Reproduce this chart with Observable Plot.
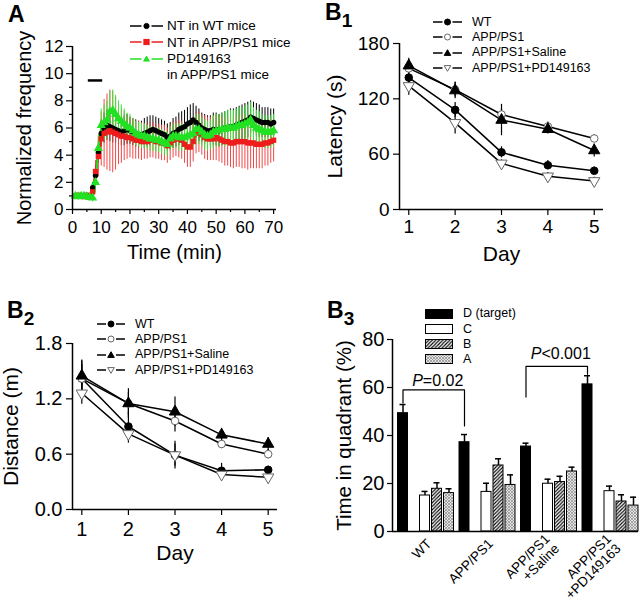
<!DOCTYPE html>
<html>
<head>
<meta charset="utf-8">
<script src="https://cdn.jsdelivr.net/npm/d3@7"></script>
<script src="https://cdn.jsdelivr.net/npm/@observablehq/plot@0.6"></script>
<style>
  html, body { margin: 0; padding: 0; background: #fff; }
  #fig { position: relative; width: 640px; height: 604px; overflow: hidden; font-family: "Liberation Sans", Arial, Helvetica, sans-serif; color: #000; background: #fff; }
  .panel { position: absolute; }
  .plabel { position: absolute; font-weight: bold; font-size: 23px; line-height: 1; }
  .plabel sub { font-size: 19px; vertical-align: -7px; line-height: 0; }
  .legend { position: absolute; }
  .legend .row { position: absolute; left: 0; display: flex; align-items: center; white-space: nowrap; line-height: 1; height: 14px; }
</style>
</head>
<body>
<svg width="0" height="0" style="position:absolute">
  <defs>
    <pattern id="hatchB" patternUnits="userSpaceOnUse" width="3.5" height="3.5">
      <rect width="3.5" height="3.5" fill="#fff"/>
      <path d="M-1,1 L1,-1 M0,3.5 L3.5,0 M2.5,4.5 L4.5,2.5" stroke="#000" stroke-width="1.1"/>
    </pattern>
    <pattern id="crossA" patternUnits="userSpaceOnUse" width="3" height="3">
      <rect width="3" height="3" fill="#e4e4e4"/>
      <path d="M0,0 L3,3 M3,0 L0,3" stroke="#8a8a8a" stroke-width="0.7"/>
    </pattern>
  </defs>
</svg>
<div id="fig"></div>
<script>
// ---------------- Panel A data ----------------
const timeMin = [1,2,3,4,5,6,7,8,9,10,11,12,13,14,15,16,17,18,19,20,21,22,23,24,25,26,27,28,29,30,31,32,33,34,35,36,37,38,39,40,41,42,43,44,45,46,47,48,49,50,51,52,53,54,55,56,57,58,59,60,61,62,63,64,65,66,67,68,69,70];
const wtMean = [1.0,0.95,1.0,1.05,1.0,0.95,1.6,2.5,4.2,5.6, 6.0,6.2,6.1,6.0,5.9,5.8,5.7,5.8,5.9,5.8, 5.7,5.6,5.5,5.5,5.6,5.7,5.8,5.9,5.8,5.7, 5.6,5.5,5.3,5.4,5.6,5.7,5.9,6.0,6.1,6.3, 6.4,6.6,6.4,6.2,6.0,5.9,5.8,5.8,5.9,5.9, 5.8,5.9,6.0,6.0,6.1,6.1,6.2,6.3,6.4,6.5, 6.6,6.8,6.7,6.6,6.5,6.4,6.4,6.4,6.3,6.4];
const wtErr = [0.15,0.15,0.15,0.15,0.15,0.15,0.4,0.6,0.8,1.0, 1.1,1.1,1.1,1.1,1.0,1.0,1.0,1.1,1.1,1.0, 1.0,1.0,1.0,1.0,1.1,1.1,1.1,1.0,1.0,1.0, 1.0,1.0,1.0,1.0,1.1,1.1,1.2,1.2,1.2,1.2, 1.3,1.2,1.2,1.2,1.1,1.1,1.1,1.1,1.2,1.2, 1.2,1.2,1.2,1.3,1.3,1.3,1.3,1.3,1.3,1.3, 1.3,1.2,1.2,1.2,1.2,1.1,1.1,1.1,1.1,1.0];
const appMean = [1.0,1.05,1.0,0.95,1.05,1.0,1.3,2.8,3.9,5.2, 5.6,5.7,5.8,5.7,5.6,5.5,5.4,5.4,5.3,5.3, 5.2,5.1,5.1,5.0,5.0,5.0,5.1,5.1,5.0,5.0, 4.9,4.9,4.7,4.9,5.1,5.2,5.2,5.1,4.8,4.6, 4.6,5.0,5.6,5.7,5.5,5.3,5.2,5.2,5.2,5.3, 5.2,5.1,5.0,5.0,4.9,4.9,5.0,5.0,5.0,5.0, 4.9,4.9,4.9,4.8,4.8,4.8,4.9,4.9,5.0,5.1];
const appErr = [0.2,0.2,0.2,0.2,0.2,0.2,0.4,0.8,1.5,2.0, 2.5,2.8,3.0,3.0,2.7,2.2,2.0,1.8,1.6,1.5, 1.5,1.4,1.4,1.4,1.3,1.3,1.3,1.3,1.3,1.3, 1.3,1.3,1.3,1.3,1.3,1.3,1.4,1.4,1.4,1.5, 1.5,1.5,1.5,1.5,1.5,1.6,1.6,1.6,1.6,1.7, 1.7,1.7,1.8,1.8,1.8,1.9,1.9,1.9,2.0,2.0, 2.0,1.9,1.9,1.8,1.8,1.8,1.7,1.7,1.6,1.6];
const pdMean = [1.0,0.95,1.0,1.0,0.95,0.9,0.85,2.0,4.5,6.2, 6.4,6.6,7.2,7.3,7.0,6.7,6.5,6.3,6.1,6.0, 5.8,5.6,5.5,5.4,5.4,5.3,5.2,5.2,5.1,5.1, 5.0,4.9,4.8,5.2,5.4,5.4,5.3,5.3,5.3,5.4, 5.5,5.6,5.9,5.9,5.7,5.5,5.4,5.5,5.7,5.8, 5.8,5.9,5.9,6.0,6.0,6.0,6.1,6.2,6.2,6.3, 6.4,6.6,6.2,6.0,5.9,5.8,5.7,5.7,5.7,5.8];
const pdErr = [0.15,0.15,0.15,0.15,0.15,0.15,0.3,0.8,1.0,1.2, 1.3,1.4,1.5,1.5,1.4,1.3,1.2,1.1,1.0,1.0, 0.9,0.9,0.9,0.9,0.9,0.9,0.9,0.9,0.9,0.9, 0.9,0.9,0.9,0.9,0.9,0.9,1.0,1.0,1.0,1.0, 1.0,1.0,1.1,1.1,1.1,1.1,1.1,1.1,1.2,1.2, 1.2,1.2,1.3,1.3,1.3,1.3,1.3,1.3,1.3,1.3, 1.3,1.3,1.3,1.3,1.3,1.2,1.2,1.2,1.2,1.2];
const drugBar = [{start: 5.5, end: 10.5, level: 9.5}];
const aXTicks = [0,10,20,30,40,50,60,70];
const aXMinor = [5,15,25,35,45,55,65];
const aYTicks = [0,2,4,6,8,10,12];
const aYMinor = [1,3,5,7,9,11];
const aSeriesNames = ["NT in WT mice", "NT in APP/PS1 mice", "PD149163"];

// ---------------- Panel B1 / B2 data ----------------
const days = [1,2,3,4,5];
const bGroupNames = ["WT", "APP/PS1", "APP/PS1+Saline", "APP/PS1+PD149163"];
const latWT = [143,108,62,48,42];        const latWTErr = [8,8,6,5,4];
const latAPP = [153,130,103,90,77];      const latAPPErr = [6,8,6,5,4];
const latSaline = [156,129,97,87,64];    const latSalineErr = [8,9,17,5,7];
const latPD = [134,94,50,36,31];         const latPDErr = [10,12,4,4,4];
const latYTicks = [0,60,120,180];

const distWT = [1.42,0.90,0.59,0.42,0.43];     const distWTErr = [0.20,0.15,0.12,0.08,0.04];
const distAPP = [1.42,1.15,0.96,0.71,0.60];    const distAPPErr = [0.15,0.12,0.12,0.05,0.05];
const distSaline = [1.45,1.15,1.06,0.81,0.71]; const distSalineErr = [0.16,0.16,0.16,0.07,0.07];
const distPD = [1.26,0.82,0.59,0.38,0.35];     const distPDErr = [0.12,0.10,0.15,0.06,0.03];
const distYTicks = [0,0.6,1.2,1.8];

// ---------------- Panel B3 data ----------------
const b3Groups = ["WT", "APP/PS1", "APP/PS1\n+Saline", "APP/PS1\n+PD149163"];
const quadrants = ["D", "C", "B", "A"];
const quadLabels = ["D (target)", "C", "B", "A"];
const quadD = [49.3,37.2,35.4,61.3]; const quadDErr = [3.6,3.2,1.4,3.6];
const quadC = [15.0,16.5,19.9,16.8]; const quadCErr = [1.7,3.6,1.9,2.1];
const quadB = [17.8,27.5,20.6,12.5]; const quadBErr = [2.5,2.8,2.4,2.8];
const quadA = [16.0,19.4,25.0,10.8]; const quadAErr = [1.8,4.2,1.8,3.5];
const b3YTicks = [0,20,40,60,80];
const bracketFrom = ["WT", "APP/PS1\n+Saline"];
const bracketTo = ["APP/PS1", "APP/PS1\n+PD149163"];
const bracketLevel = [59, 68.8];
const bracketFromEnd = [53.5, 56];
const bracketToEnd = [44, 65.5];
const bracketText = ["P=0.02", "P<0.001"];
const bracketTextLevel = [62.6, 74.2];

// ---------------- helpers ----------------
const fig = document.getElementById("fig");
const FONT = "Liberation Sans, Arial, Helvetica, sans-serif";
function place(el, left, top) {
  const d = document.createElement("div");
  d.className = "panel"; d.style.left = left + "px"; d.style.top = top + "px";
  d.appendChild(el); fig.appendChild(d);
}
function panelLabel(main, sub, left, top) {
  const d = document.createElement("div");
  d.className = "plabel"; d.style.left = left + "px"; d.style.top = top + "px";
  d.textContent = main;
  if (sub) { const s = document.createElement("sub"); s.textContent = sub; d.appendChild(s); }
  fig.appendChild(d);
}
function rows(xs, mean, err) {
  return xs.map((x, i) => ({x, y: mean[i], lo: mean[i] - err[i], hi: mean[i] + err[i]}));
}
const NS = "http://www.w3.org/2000/svg";
function el(tag, attrs) { const e = document.createElementNS(NS, tag); for (const k in attrs) e.setAttribute(k, attrs[k]); return e; }
function marker(shape, cx, cy, fill, stroke, size) {
  if (shape === "circle") return el("circle", {cx, cy, r: size, fill, stroke, "stroke-width": 1});
  if (shape === "square") return el("rect", {x: cx - size, y: cy - size, width: 2 * size, height: 2 * size, fill, stroke, "stroke-width": 1});
  if (shape === "triangle") return el("polygon", {points: `${cx},${cy - size * 1.1} ${cx - size * 1.1},${cy + size * 0.8} ${cx + size * 1.1},${cy + size * 0.8}`, fill, stroke, "stroke-width": 1});
  if (shape === "triangleDown") return el("polygon", {points: `${cx},${cy + size * 1.1} ${cx - size * 1.1},${cy - size * 0.8} ${cx + size * 1.1},${cy - size * 0.8}`, fill, stroke, "stroke-width": 1});
}
function addLegend(left, top, step, items, o) {
  const box = document.createElement("div");
  box.className = "legend"; box.style.left = left + "px"; box.style.top = top + "px";
  items.forEach((it, i) => {
    const row = document.createElement("div"); row.className = "row";
    row.style.top = (i * step - 7) + "px"; row.style.fontSize = o.fontSize + "px";
    const svg = el("svg", {width: o.w, height: 14});
    svg.style.display = "block"; svg.style.overflow = "visible";
    if (it.line) {
      const c = o.w / 2;
      svg.appendChild(el("line", {x1: 0, x2: c - 5, y1: 7, y2: 7, stroke: it.line, "stroke-width": 1.5}));
      svg.appendChild(el("line", {x1: c + 5, x2: o.w, y1: 7, y2: 7, stroke: it.line, "stroke-width": 1.5}));
      svg.appendChild(marker(it.shape, c, 7, it.fill, it.stroke, o.ms));
    } else if (it.swatch) {
      svg.appendChild(el("rect", {x: 0.5, y: 2.5, width: o.w - 1, height: 9, fill: it.swatch, stroke: "#000", "stroke-width": 1}));
    }
    row.appendChild(svg);
    const span = document.createElement("span");
    span.textContent = it.label; span.style.marginLeft = o.gap + "px";
    row.appendChild(span);
    box.appendChild(row);
  });
  fig.appendChild(box);
}
const baseStyle = (fs) => ({fontFamily: FONT, fontSize: fs + "px", background: "transparent", overflow: "visible", color: "#000"});
const xTitle = (label, dy, fs) => Plot.text([label], {text: d => d, frameAnchor: "bottom", textAnchor: "middle", lineAnchor: "middle", dy, fontSize: fs});
const yTitle = (label, dx, fs) => Plot.text([label], {text: d => d, frameAnchor: "left", textAnchor: "middle", lineAnchor: "middle", rotate: -90, dx, fontSize: fs});

// ---------------- Panel A ----------------
const aStyle = [
  {mean: wtMean, err: wtErr, color: "#000000", errColor: "#000000", symbol: "circle", r: 2.7},
  {mean: appMean, err: appErr, color: "#ee1c1c", errColor: "#f04848", symbol: "square", r: 3.0},
  {mean: pdMean, err: pdErr, color: "#22e022", errColor: "#38e838", symbol: "triangle", r: 3.4}
];
const aRows = aStyle.map(s => rows(timeMin, s.mean, s.err));
const plotA = Plot.plot({
  width: 300, height: 270, marginLeft: 72, marginRight: 24, marginTop: 46, marginBottom: 61,
  style: baseStyle(17),
  x: {domain: [0, 71]}, y: {domain: [0, 12]},
  marks: [
    ...aRows.map((r, k) => Plot.ruleX(r, {x: "x", y1: "lo", y2: "hi", stroke: aStyle[k].errColor, strokeWidth: 1})),
    ...aRows.map((r, k) => Plot.line(r, {x: "x", y: "y", stroke: aStyle[k].color, strokeWidth: 1.8})),
    ...aRows.map((r, k) => Plot.dot(r, {x: "x", y: "y", symbol: aStyle[k].symbol, fill: aStyle[k].color, r: aStyle[k].r})),
    Plot.ruleY(drugBar, {x1: "start", x2: "end", y: "level", strokeWidth: 2.5}),
    Plot.ruleX([0], {strokeWidth: 1.5}), Plot.ruleY([0], {strokeWidth: 1.5}),
    Plot.axisX({ticks: aXTicks, tickSize: 5, tickPadding: 6, label: null, strokeWidth: 1.2}),
    Plot.axisX({ticks: aXMinor, tickSize: 3, tickFormat: () => "", label: null, strokeWidth: 1.2}),
    Plot.axisY({ticks: aYTicks, tickSize: 6, tickPadding: 3, label: null, strokeWidth: 1.2}),
    Plot.axisY({ticks: aYMinor, tickSize: 3, tickFormat: () => "", label: null, strokeWidth: 1.2}),
    xTitle("Time (min)", 43, 20),
    yTitle("Normalized frequency", -48, 20)
  ]
});
place(plotA, 0, 0);
addLegend(130, 26, 16.3, [
  {label: aSeriesNames[0], line: "#000", shape: "circle", fill: "#000", stroke: "#000"},
  {label: aSeriesNames[1], line: "#ee1c1c", shape: "square", fill: "#ee1c1c", stroke: "#ee1c1c"},
  {label: aSeriesNames[2], line: "#22e022", shape: "triangle", fill: "#22e022", stroke: "#22e022"},
  {label: "in APP/PS1 mice"}
], {w: 33, gap: 4, fontSize: 13.5, ms: 2.6});
panelLabel("A", null, 8, 3);

// ---------------- Panels B1 and B2 ----------------
const bStyle = [
  {symbol: "circle", fill: "#000", stroke: "#000", rotate: 0, legendShape: "circle"},
  {symbol: "circle", fill: "#fff", stroke: "#666", rotate: 0, legendShape: "circle"},
  {symbol: "triangle", fill: "#000", stroke: "#000", rotate: 0, legendShape: "triangle"},
  {symbol: "triangle", fill: "#fff", stroke: "#666", rotate: 180, legendShape: "triangleDown"}
];
function linePanel(series, yDomain, yTicks, yFmt, yLabel, dims) {
  const data = series.map(([m, e]) => rows(days, m, e));
  return Plot.plot({
    width: dims.width, height: 270, marginLeft: dims.ml, marginRight: dims.mr, marginTop: 43, marginBottom: 61,
    style: baseStyle(dims.fs),
    x: {domain: [0.8, 5.2]}, y: {domain: yDomain},
    marks: [
      ...data.map(r => Plot.ruleX(r, {x: "x", y1: "lo", y2: "hi", stroke: "#000", strokeWidth: 1.2})),
      ...data.map(r => Plot.line(r, {x: "x", y: "y", stroke: "#000", strokeWidth: 1.5})),
      ...data.map((r, k) => Plot.dot(r, {x: "x", y: "y", symbol: bStyle[k].symbol, fill: bStyle[k].fill, stroke: bStyle[k].stroke, strokeWidth: 1, r: bStyle[k].symbol === "triangle" ? 4.2 : 3.8, rotate: bStyle[k].rotate})),
      Plot.ruleX([0.8], {strokeWidth: 1.5}), Plot.ruleY([yDomain[0]], {strokeWidth: 1.5}),
      Plot.axisX({ticks: days, tickFormat: d3.format("d"), tickSize: 6, tickPadding: dims.xpad, label: null, strokeWidth: 1.2}),
      Plot.axisY({ticks: yTicks, tickFormat: yFmt, tickSize: 6, tickPadding: 4, label: null, strokeWidth: 1.2}),
      xTitle("Day", dims.dayDy, 21),
      yTitle(yLabel, dims.ylDx, 21)
    ]
  });
}
const plotB1 = linePanel(
  [[latWT, latWTErr], [latAPP, latAPPErr], [latSaline, latSalineErr], [latPD, latPDErr]],
  [0, 180], latYTicks, d3.format("d"), "Latency (s)",
  {width: 320, ml: 79, mr: 37, fs: 19, xpad: 4, dayDy: 45, ylDx: -64});
place(plotB1, 320, 0);
const plotB2 = linePanel(
  [[distWT, distWTErr], [distAPP, distAPPErr], [distSaline, distSalineErr], [distPD, distPDErr]],
  [0, 1.8], distYTicks, d3.format(".1f"), "Distance (m)",
  {width: 320, ml: 72, mr: 43, fs: 20, xpad: 6, dayDy: 44, ylDx: -61});
place(plotB2, 0, 300);
const bLegendItems = bGroupNames.map((name, k) => ({label: name, line: "#000", shape: bStyle[k].legendShape, fill: bStyle[k].fill, stroke: bStyle[k].stroke}));
addLegend(433, 22, 15.3, bLegendItems, {w: 29, gap: 10, fontSize: 12.5, ms: 3});
addLegend(97, 324, 15.3, bLegendItems, {w: 28, gap: 10, fontSize: 12.5, ms: 3});
panelLabel("B", "1", 325, 1);
panelLabel("B", "2", 7, 299);

// ---------------- Panel B3 ----------------
const quadValues = [quadD, quadC, quadB, quadA];
const quadErrs = [quadDErr, quadCErr, quadBErr, quadAErr];
const quadFill = {D: "#000", C: "#fff", B: "url(#hatchB)", A: "url(#crossA)"};
const b3Rows = [];
quadrants.forEach((q, qi) => b3Groups.forEach((g, gi) => b3Rows.push({group: g, quadrant: q, value: quadValues[qi][gi], err: quadErrs[qi][gi]})));
const b3W = 320, b3ML = 72, b3MR = 2;
const groupW = (b3W - b3ML - b3MR) / b3Groups.length;
const barW = 10;
// bar left offset inside each group (D stands apart from the C, B, A cluster)
const barLeft = {D: 5.5, C: 27.5, B: 39.5, A: 51.5};
const centerShift = q => barLeft[q] + barW / 2 - groupW / 2;
const bracketPath = [];
const bracketLabels = [];
bracketFrom.forEach((g, i) => {
  bracketPath.push({id: i, group: g, y: bracketFromEnd[i]}, {id: i, group: g, y: bracketLevel[i]},
                   {id: i, group: bracketTo[i], y: bracketLevel[i]}, {id: i, group: bracketTo[i], y: bracketToEnd[i]});
  bracketLabels.push({group: g, y: bracketTextLevel[i], text: bracketText[i]});
});
const plotB3 = Plot.plot({
  width: b3W, height: 304, marginLeft: b3ML, marginRight: b3MR, marginTop: 39, marginBottom: 73,
  style: baseStyle(20),
  x: {domain: b3Groups, padding: 0, round: false},
  y: {domain: [0, 80]},
  marks: [
    ...quadrants.map(q => Plot.barY(b3Rows.filter(d => d.quadrant === q), {
      x: "group", y: "value", fill: quadFill[q], stroke: "#000", strokeWidth: 1,
      insetLeft: barLeft[q], insetRight: groupW - barLeft[q] - barW})),
    ...quadrants.map(q => Plot.ruleX(b3Rows.filter(d => d.quadrant === q), {
      x: "group", y1: "value", y2: d => d.value + d.err, dx: centerShift(q), strokeWidth: 1.5})),
    ...quadrants.map(q => Plot.tickY(b3Rows.filter(d => d.quadrant === q), {
      x: "group", y: d => d.value + d.err, strokeWidth: 1.5,
      insetLeft: barLeft[q] + 2, insetRight: groupW - barLeft[q] - barW + 2})),
    Plot.line(bracketPath, {x: "group", y: "y", z: "id", dx: centerShift("D"), stroke: "#000", strokeWidth: 1.2}),
    Plot.text(bracketLabels, {x: "group", y: "y", text: "text", dx: centerShift("D") + groupW / 2 + 4, fontSize: 16}),
    Plot.ruleX([b3Groups[0]], {dx: -groupW / 2, strokeWidth: 1.5}),
    Plot.ruleY([0], {strokeWidth: 1.5}),
    Plot.axisY({ticks: b3YTicks, tickSize: 5, tickPadding: 3, label: null, strokeWidth: 1.2}),
    Plot.axisX({tickRotate: -45, tickSize: 0, tickPadding: 10, dx: 6, fontSize: 13.5, label: null}),
    yTitle("Time in quadrant (%)", -48, 20.5)
  ]
});
// italicise the leading "P" of the P-value labels
plotB3.querySelectorAll("text").forEach(t => {
  const s = t.textContent;
  if (/^P[=<]/.test(s) && t.children.length === 0) {
    t.textContent = "";
    const p = document.createElementNS(NS, "tspan"); p.setAttribute("font-style", "italic"); p.textContent = "P";
    const r = document.createElementNS(NS, "tspan"); r.textContent = s.slice(1);
    t.appendChild(p); t.appendChild(r);
  }
});
place(plotB3, 320, 300);
addLegend(425, 313.5, 15.3, quadrants.map((q, i) => ({label: quadLabels[i], swatch: quadFill[q]})), {w: 28, gap: 10, fontSize: 12.5});
panelLabel("B", "3", 327, 299);
</script>
</body>
</html>
